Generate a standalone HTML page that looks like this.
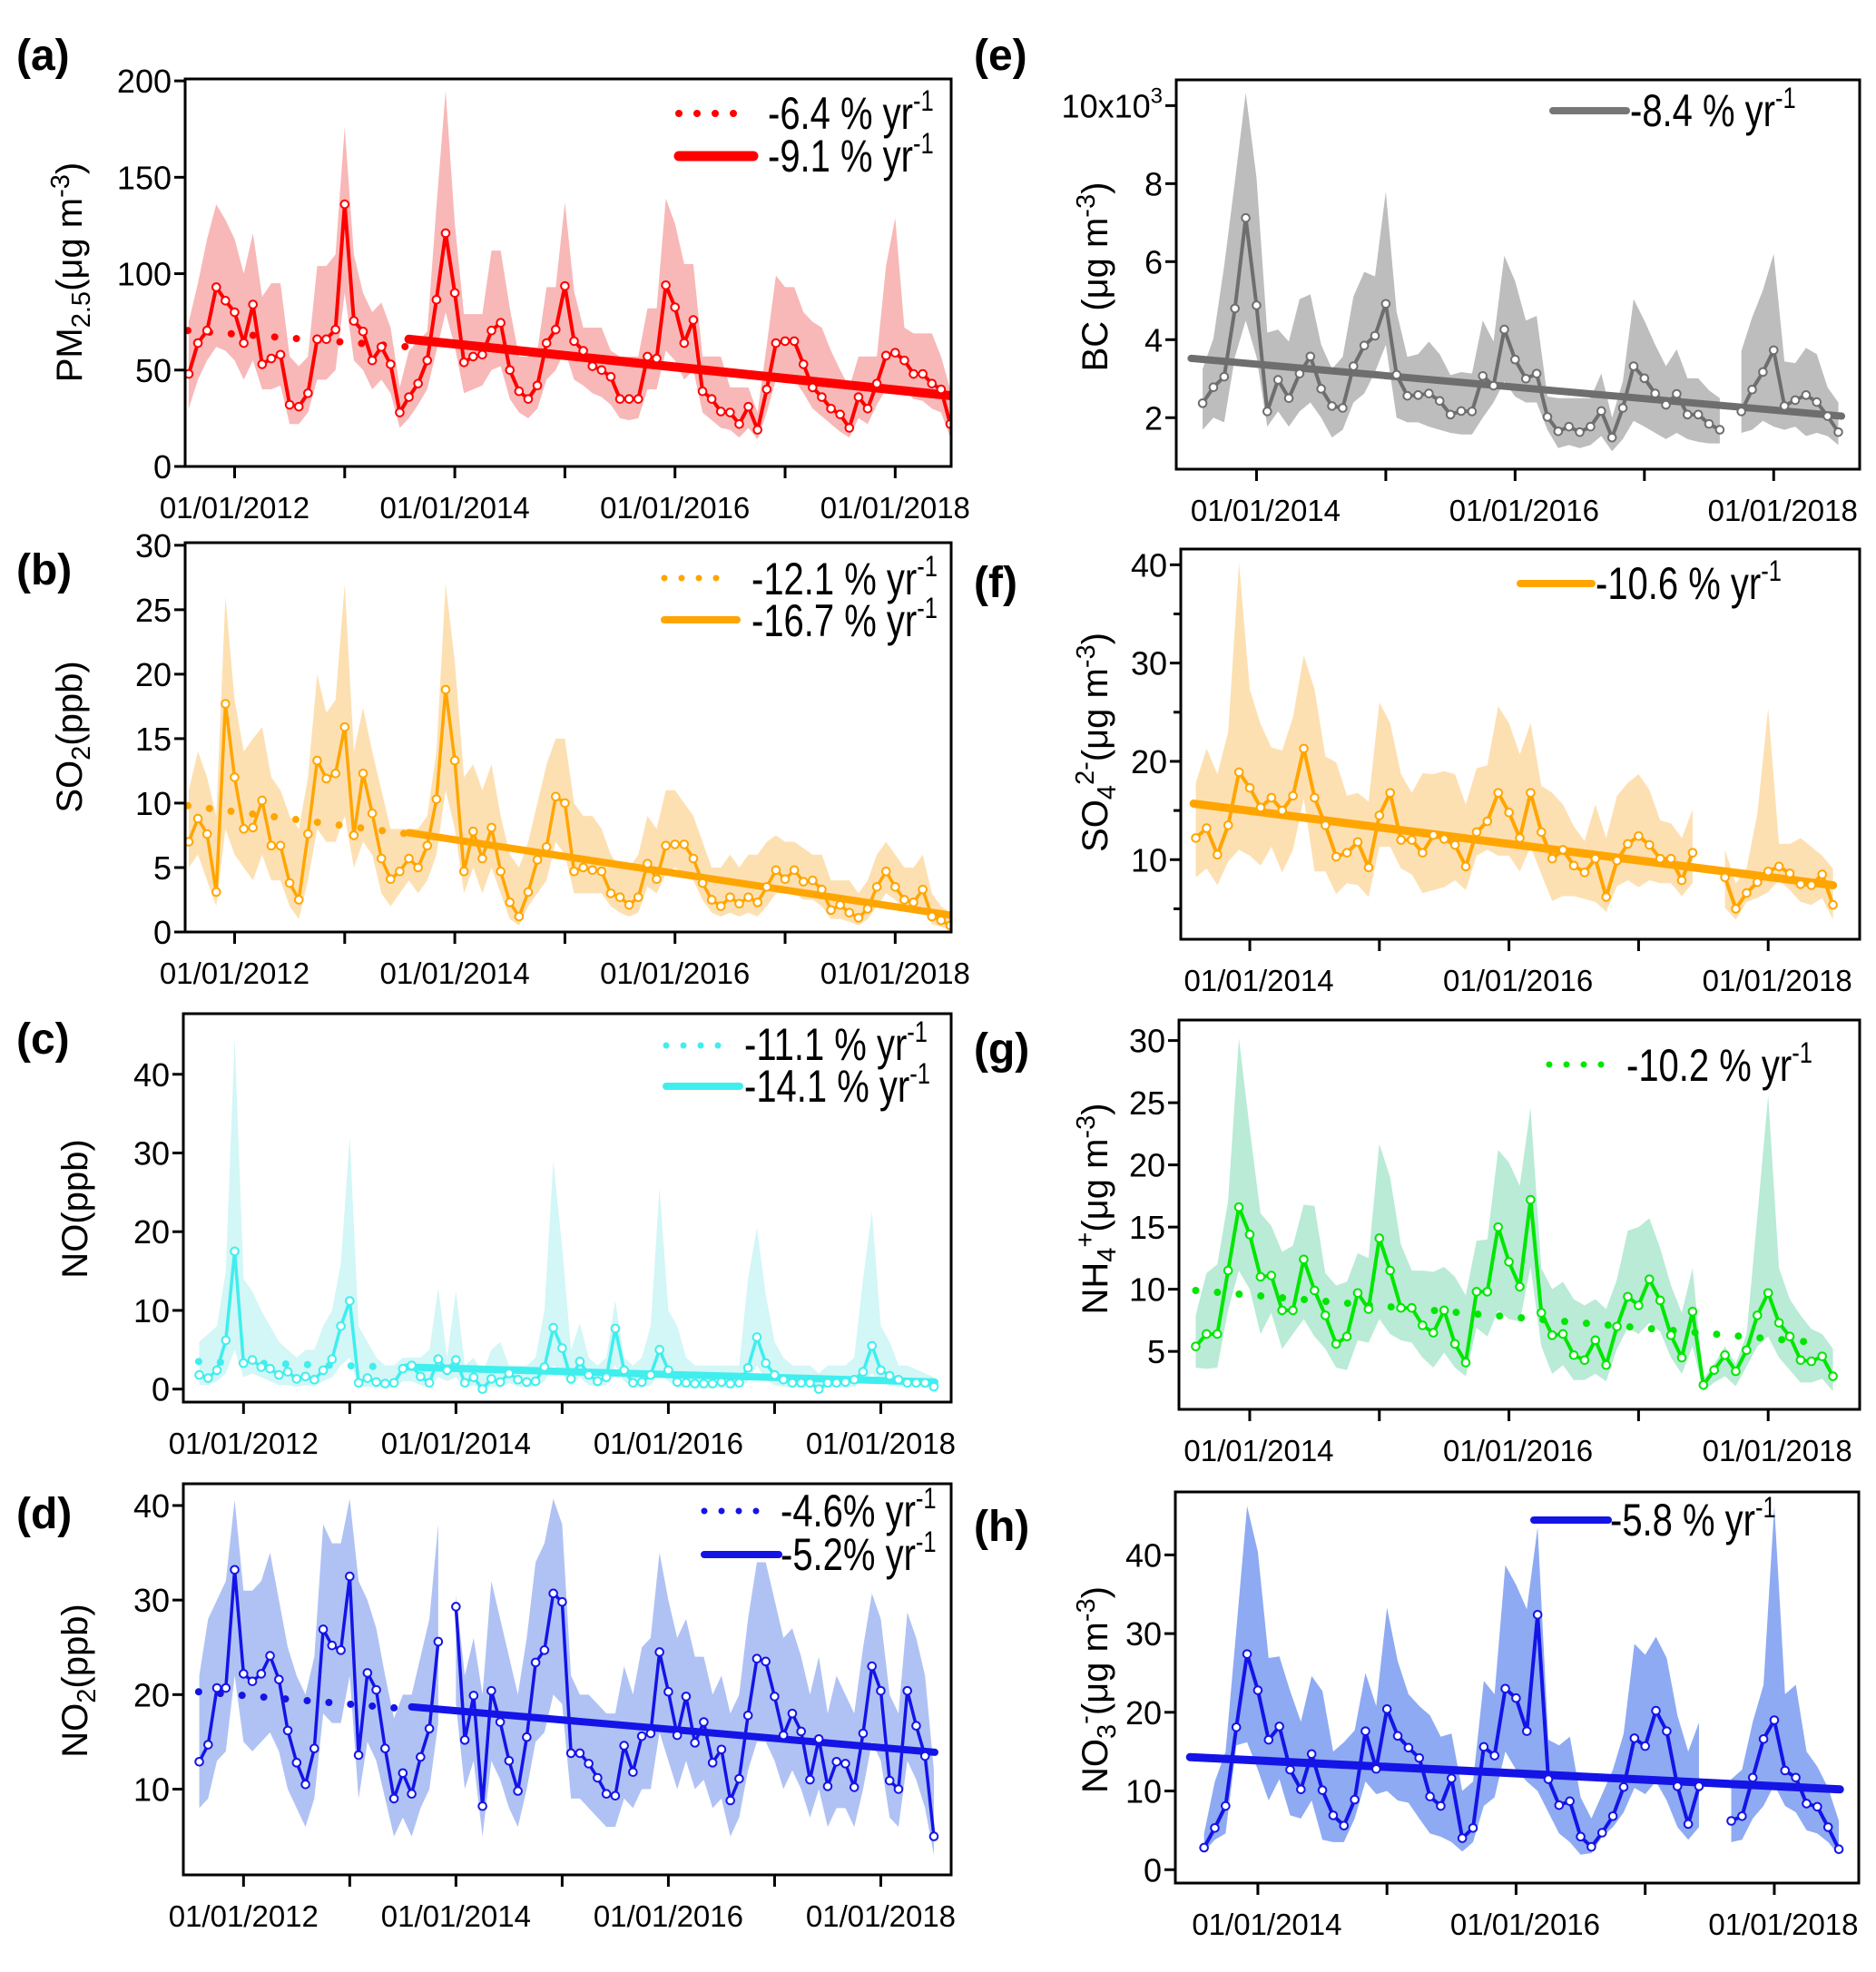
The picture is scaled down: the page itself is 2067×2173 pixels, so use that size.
<!DOCTYPE html>
<html><head><meta charset="utf-8"><title>Air pollutant trends</title>
<style>
html,body{margin:0;padding:0;background:#fff;}
svg{display:block;}
text{font-family:"Liberation Sans",Arial,sans-serif;}
.lg{font-size:50px;}
.pl{font-size:48px;font-weight:bold;}
.yt{font-size:40px;}
</style></head>
<body>
<svg id="fig" width="2067" height="2173" viewBox="0 0 2067 2173" xmlns="http://www.w3.org/2000/svg" font-family="Liberation Sans, Arial, sans-serif">
<rect x="0" y="0" width="2067" height="2173" fill="#fff"/>
<g id="marks"></g>
<text class="pl" x="18" y="77">(a)</text>
<text class="pl" x="18" y="644">(b)</text>
<text class="pl" x="18" y="1161">(c)</text>
<text class="pl" x="18" y="1684">(d)</text>
<text class="pl" x="1073" y="77">(e)</text>
<text class="pl" x="1073" y="658">(f)</text>
<text class="pl" x="1073" y="1172">(g)</text>
<text class="pl" x="1073" y="1698">(h)</text>
<text class="yt" transform="translate(90,300) rotate(-90)" text-anchor="middle">PM<tspan font-size="29" dy="9">2.5</tspan><tspan dy="-9">(μg m</tspan><tspan font-size="29" dy="-14">-3</tspan><tspan dy="14">)</tspan></text>
<text class="yt" transform="translate(90,812) rotate(-90)" text-anchor="middle">SO<tspan font-size="29" dy="9">2</tspan><tspan dy="-9">(ppb)</tspan></text>
<text class="yt" transform="translate(96,1332) rotate(-90)" text-anchor="middle">NO(ppb)</text>
<text class="yt" transform="translate(96,1852) rotate(-90)" text-anchor="middle">NO<tspan font-size="29" dy="9">2</tspan><tspan dy="-9">(ppb)</tspan></text>
<text class="yt" transform="translate(1220,305) rotate(-90)" text-anchor="middle">BC (μg m<tspan font-size="29" dy="-14">-3</tspan><tspan dy="14">)</tspan></text>
<text class="yt" transform="translate(1220,818) rotate(-90)" text-anchor="middle">SO<tspan font-size="29" dy="9">4</tspan><tspan font-size="29" dy="-24">2-</tspan><tspan dy="15">(μg m</tspan><tspan font-size="29" dy="-14">-3</tspan><tspan dy="14">)</tspan></text>
<text class="yt" transform="translate(1220,1332) rotate(-90)" text-anchor="middle">NH<tspan font-size="29" dy="9">4</tspan><tspan font-size="29" dy="-24">+</tspan><tspan dy="15">(μg m</tspan><tspan font-size="29" dy="-14">-3</tspan><tspan dy="14">)</tspan></text>
<text class="yt" transform="translate(1220,1862) rotate(-90)" text-anchor="middle">NO<tspan font-size="29" dy="9">3</tspan><tspan font-size="29" dy="-24">-</tspan><tspan dy="15">(μg m</tspan><tspan font-size="29" dy="-14">-3</tspan><tspan dy="14">)</tspan></text>
<g>
<line x1="748" y1="125" x2="816" y2="125" stroke="#ff0000" stroke-width="8" stroke-linecap="round" stroke-dasharray="0 20"/>
<g transform="translate(846,142) scale(0.8,1)"><text class="lg" x="0" y="0">-6.4 % yr<tspan font-size="32" dy="-20">-1</tspan></text></g>
<line x1="748" y1="172" x2="830" y2="172" stroke="#ff0000" stroke-width="11" stroke-linecap="round"/>
<g transform="translate(846,189) scale(0.8,1)"><text class="lg" x="0" y="0">-9.1 % yr<tspan font-size="32" dy="-20">-1</tspan></text></g>
</g>
<g>
<line x1="732" y1="637" x2="796" y2="637" stroke="#ffa500" stroke-width="7" stroke-linecap="round" stroke-dasharray="0 19"/>
<g transform="translate(828,655) scale(0.8,1)"><text class="lg" x="0" y="0">-12.1 % yr<tspan font-size="32" dy="-20">-1</tspan></text></g>
<line x1="732" y1="683" x2="812" y2="683" stroke="#ffa500" stroke-width="8" stroke-linecap="round"/>
<g transform="translate(828,701) scale(0.8,1)"><text class="lg" x="0" y="0">-16.7 % yr<tspan font-size="32" dy="-20">-1</tspan></text></g>
</g>
<g>
<line x1="734" y1="1152" x2="802" y2="1152" stroke="#40eeee" stroke-width="7" stroke-linecap="round" stroke-dasharray="0 19"/>
<g transform="translate(820,1168) scale(0.8,1)"><text class="lg" x="0" y="0">-11.1 % yr<tspan font-size="32" dy="-20">-1</tspan></text></g>
<line x1="734" y1="1197" x2="815" y2="1197" stroke="#40eeee" stroke-width="8" stroke-linecap="round"/>
<g transform="translate(820,1214) scale(0.8,1)"><text class="lg" x="0" y="0">-14.1 % yr<tspan font-size="32" dy="-20">-1</tspan></text></g>
</g>
<g>
<line x1="776" y1="1665" x2="841" y2="1665" stroke="#1414e6" stroke-width="7" stroke-linecap="round" stroke-dasharray="0 19"/>
<g transform="translate(860,1682) scale(0.8,1)"><text class="lg" x="0" y="0">-4.6% yr<tspan font-size="32" dy="-20">-1</tspan></text></g>
<line x1="776" y1="1713" x2="858" y2="1713" stroke="#1414e6" stroke-width="8" stroke-linecap="round"/>
<g transform="translate(860,1730) scale(0.8,1)"><text class="lg" x="0" y="0">-5.2% yr<tspan font-size="32" dy="-20">-1</tspan></text></g>
</g>
<g>
<line x1="1711" y1="122" x2="1792" y2="122" stroke="#777" stroke-width="8" stroke-linecap="round"/>
<g transform="translate(1796,139) scale(0.8,1)"><text class="lg" x="0" y="0">-8.4 % yr<tspan font-size="32" dy="-20">-1</tspan></text></g>
</g>
<g>
<line x1="1675" y1="643" x2="1754" y2="643" stroke="#ffa500" stroke-width="8" stroke-linecap="round"/>
<g transform="translate(1758,660) scale(0.8,1)"><text class="lg" x="0" y="0">-10.6 % yr<tspan font-size="32" dy="-20">-1</tspan></text></g>
</g>
<g>
<line x1="1707" y1="1173" x2="1772" y2="1173" stroke="#00e600" stroke-width="7" stroke-linecap="round" stroke-dasharray="0 19"/>
<g transform="translate(1792,1191) scale(0.8,1)"><text class="lg" x="0" y="0">-10.2 % yr<tspan font-size="32" dy="-20">-1</tspan></text></g>
</g>
<g>
<line x1="1690" y1="1675" x2="1772" y2="1675" stroke="#1414e6" stroke-width="8" stroke-linecap="round"/>
<g transform="translate(1774,1692) scale(0.8,1)"><text class="lg" x="0" y="0">-5.8 % yr<tspan font-size="32" dy="-20">-1</tspan></text></g>
</g>
</svg>
<script>
const aVals=[48,64,70.5,93,86,80,64,84,53,56,58,32,31,38,66,66,71,136,75.5,70,55,62,53,28,36,43,55,86.5,121,90,54,57,58,70.5,74.5,50,39,35,42,64,71,93.6,65,60,52,50,46.5,35,35,35,57,56,94,82.6,64,76,39,35,28.5,28,22,31,19,40,64,65,65,53,41,36,30,27,20,36,30,43,57.5,59,55,48,48,43,40,22];
const aUp=[75,95,118,136,128,118,100,121,88,95,95,57,52,57,104,104,110,176,110,90,80,85,72,41,60,65,70,135,195,126,79,79,79,112,112,82,57,57,60,93,93,137,91,72,72,72,60,57,57,57,82,82,139,126,105,105,57,57,57,41,41,41,28,63,99,93,93,80,75,72,60,50,41,57,57,57,104,129,72,69,69,69,57,40];
const aLo=[30,45,55,62,60,55,45,55,40,40,42,22,22,28,45,45,50,90,55,50,40,45,38,20,25,32,40,60,80,62,38,40,42,50,52,35,28,25,30,45,50,60,45,42,38,36,32,25,24,25,40,40,60,55,45,50,28,24,20,19,15,20,14,28,45,45,45,38,30,26,22,18,15,25,22,32,40,42,40,35,34,30,28,15];
const aDotT=[-5.1,19], aDotV=[70.5,62], aSolT=[19,78.1], aSolV=[66,36.7];

const bVals=[7.0,8.8,7.6,3.1,17.7,12.0,8.0,8.1,10.2,6.7,6.7,3.8,2.5,7.6,13.3,11.9,12.3,15.9,7.5,12.3,9.2,5.7,4.1,4.7,5.7,5.0,6.7,10.3,18.8,13.3,4.7,7.8,5.7,8.1,4.7,2.3,1.2,3.1,5.6,6.6,10.5,10.0,4.7,5.0,4.8,4.7,3.0,2.7,2.1,2.7,5.3,4.1,6.7,6.8,6.8,5.7,3.8,2.5,2.0,2.7,2.2,2.7,2.3,3.5,4.8,4.1,4.8,3.9,4.0,3.3,1.7,2.1,1.5,1.1,1.8,3.5,4.7,3.5,2.5,2.3,3.3,1.2,0.9,0.5];
const bUp=[11,14,12,9,26,18,14,15,15.9,12,11,9,8,12,20,17,18,27,14,17.4,14,11,8,8,8,8,9,14,27,21,12,13,11,13,9,6,5,7,10,13,15,15,10,9,9,8,6,5,5,6,9,8,11,11,10,9,7,5,5,6,5,6,6,7,7.5,7,7,6.5,6,6,4,4,4,3,4,6,7,6,5,5,6,3,2,1.5];
const bLo=[5,6,4,2,8,6,5,4,6,4,4,2,1,4,8,7,7,9,5,7,6,3,2,3,4,3,4,6,11,8,3,5,3,5,3,1,0.5,2,3,4,7,6,3,3,3,3,2,1.5,1.2,1.5,3.5,3,4.5,5,4.5,4,2.5,1.5,1.2,1.5,1.2,1.5,1.2,2,3,3,3,2.5,2.5,2,1,1,0.8,0.5,1,2,3,2.5,1.8,1.5,2,0.6,0.4,0.2];
const bDotT=[-5.1,19], bDotV=[9.8,7.6], bSolT=[19,78.1], bSolV=[7.7,1.3];

const cVals=[1.8,1.4,2.4,6.2,17.5,3.3,3.7,2.8,2.6,1.8,2.2,1.3,1.6,1.2,2.4,3.8,8.0,11.2,0.8,1.4,0.9,0.7,0.8,2.6,3.0,1.6,0.8,3.8,2.4,3.7,0.8,1.5,0,1.3,0.9,2.0,1.2,0.9,1.0,2.8,7.8,5.2,1.3,3.5,1.8,1.0,1.5,7.7,2.4,0.8,0.9,1.8,5.0,2.4,0.9,0.8,0.7,0.7,0.7,0.9,0.7,0.8,2.7,6.6,3.3,1.8,1.2,0.8,0.8,0.8,0,0.8,0.8,0.9,1.2,2.2,5.5,2.4,1.7,1.2,0.8,0.8,0.8,0.3];
const cUp=[6,7,8,15,44.7,14,12.4,10,8,6,5,4,5,5,8,10,16,32,8,6,4,3,3,4,4,4,5,12.8,4,12.5,3,4,2,5,6,3,3,3,4,10,29,18,5,8.4,4,3,4,11.3,4,3,4,8,25.5,10,8,4,3,3,3,3,3,3,14,20.5,12,6,4,3,3,3,2,3,3,3,4,14,22.6,8,6,3,3,2.5,2,1.5];
const cLo=[0.5,0.5,1,2,5,1.5,2,1.5,1,0.5,0.5,0.3,0.5,0.3,1,1.5,3,4,0.2,0.3,0.2,0.2,0.2,1,1,0.5,0.2,1.5,1,1.5,0.2,0.5,0,0.3,0.2,0.8,0.3,0.2,0.3,1,3,2,0.3,1.5,0.5,0.3,0.5,3,1,0.2,0.2,0.5,2,1,0.2,0.2,0.1,0.1,0.1,0.2,0.1,0.2,1,3,1.2,0.5,0.3,0.2,0.2,0.2,0,0.2,0.2,0.2,0.3,1,2,1,0.5,0.3,0.2,0.2,0.2,0];
const cDotT=[-5.07,17], cDotV=[3.5,2.8], cSolT=[18.4,78.1], cSolV=[2.8,0.9];

const dVals=[12.9,14.7,20.7,20.7,33.2,22.2,21.4,22.2,24.1,21.6,16.2,12.8,10.5,14.3,26.9,25.2,24.7,32.5,13.6,22.3,20.5,14.3,9.0,11.7,9.5,13.4,16.4,25.6,null,29.3,15.2,19.9,8.2,20.4,17.1,13.0,9.8,15.5,23.4,24.7,30.7,29.8,13.8,13.8,12.7,11.2,9.5,9.3,14.6,11.8,15.6,15.9,24.5,20.3,15.7,19.8,14.9,17.1,12.8,14.2,8.8,11.1,17.8,23.8,23.5,19.8,15.7,18.0,16.1,11.0,15.3,10.3,12.9,12.7,10.2,15.9,23.0,20.4,10.9,10.0,20.4,16.7,13.5,5.0];
const dUp=[22,28,30,32,40.6,31,31,32,35,30,25,22,20,24,38,36,36,40.7,32,30,27,22,17.5,20,20,24,28,38,null,30.5,22,26,20,32,28,24,20,26,34,36,40.7,38,22,20,20,19,18,18,23,20,25,26,35,30,26,28,24,24,20,22,18,20,28,34,34,30,26,27,24,20,24,18,22,20,18,25,30.7,28,20,18,28.7,26,22,12];
const dLo=[8,9,13,14,22,15,14,15,16,14,10,8,6,9,18,17,17,22,9,15,13,9,5,7,5,8,10,17,null,19,10,13,5,13,11,8,6,10,15,16,20,19,9,9,8,7,6,6,9,8,10,10,16,13,10,13,10,11,8,9,5,7,12,15,15,13,10,12,10,7,10,6,8,8,6,10,15,13,7,6,13,11,8,3];
const dDotT=[-5.07,18.3], dDotV=[20.3,18.5], dSolT=[19,78.1], dSolV=[18.7,13.9];

const eVals=[2.37,2.78,3.05,4.8,7.12,4.88,2.16,2.97,2.5,3.13,3.57,2.74,2.3,2.25,3.32,3.85,4.1,4.92,3.1,2.56,2.58,2.62,2.43,2.08,2.17,2.16,3.07,2.82,4.26,3.49,3.0,3.13,2.02,1.65,1.77,1.63,1.77,2.17,1.49,2.25,3.32,3.01,2.62,2.33,2.61,2.08,2.08,1.84,1.69,null,2.16,2.72,3.17,3.73,2.3,2.45,2.58,2.4,2.04,1.63];
const eUp=[3.25,4.03,5.89,8.07,10.33,8.15,4.18,4.26,3.95,5.04,5.16,3.87,3.25,3.56,5.11,5.74,5.62,7.8,4.72,3.56,3.63,3.95,3.63,3.09,3.17,3.13,4.49,3.95,6.15,5.5,4.49,4.61,2.54,2.5,2.5,2.5,2.5,3.13,2.0,2.93,5.04,4.49,3.87,3.32,3.75,3.01,3.01,2.7,2.5,null,3.71,4.57,5.27,6.2,3.44,3.4,3.79,3.63,2.78,2.39];
const eLo=[1.69,2.0,1.88,3.56,4.49,3.56,1.77,2.16,1.77,2.16,2.39,2.0,1.49,1.69,2.39,2.62,3.17,3.87,2.0,1.88,1.88,1.77,1.69,1.61,1.57,1.57,2.0,2.39,2.93,2.54,2.39,2.39,1.69,1.22,1.3,1.22,1.3,1.53,1.14,1.45,1.92,1.77,1.61,1.45,1.61,1.45,1.38,1.34,1.34,null,1.61,1.69,1.92,1.77,1.69,1.77,1.53,1.61,1.53,1.3];
const eSolT=[-6.07,54.3], eSolV=[3.52,2.04];

const fVals=[12.2,13.2,10.5,13.5,18.9,17.3,15.3,16.3,15.0,16.5,21.3,16.3,13.5,10.3,10.7,11.8,9.2,14.5,16.8,12.0,12.0,10.7,12.5,12.1,11.5,9.3,12.8,13.9,16.8,14.8,12.2,16.8,12.8,10.1,11.0,9.4,8.7,10.1,6.2,9.9,11.6,12.4,11.5,10.1,10.1,7.9,10.7,null,null,8.2,5.0,6.6,7.7,8.8,9.3,8.6,7.5,7.4,8.5,5.4];
const fUp=[17.8,21.3,18.7,23.0,40.2,27.3,23.8,21.4,21.1,24.5,30.8,27.3,20.5,19.9,16.5,16.8,15.9,26.0,23.9,18.7,16.8,18.8,18.7,19.0,18.7,15.6,19.3,19.6,25.6,23.9,20.7,23.9,17.5,16.8,15.6,13.4,11.9,15.6,12.2,16.5,17.8,18.7,17.1,14.0,13.7,12.2,15.1,null,null,11.0,7.6,9.1,14.7,25.4,11.6,11.6,12.2,11.3,10.4,9.1];
const fLo=[8.2,9.1,7.4,9.8,11.0,10.4,9.4,11.3,8.7,11.0,16.2,8.8,8.8,6.5,7.6,7.4,6.2,11.3,11.3,9.1,8.5,6.6,6.9,7.2,7.9,6.9,10.4,11.0,10.4,10.4,8.8,11.3,8.5,5.8,6.3,6.3,6.0,5.7,4.7,7.3,7.9,7.2,7.9,7.6,7.6,6.3,7.6,null,null,5.1,3.9,5.7,6.1,6.7,7.9,6.9,5.7,5.4,6.1,3.9];
const fSolT=[-5.2,54], fSolV=[15.7,7.4];

const gVals=[5.4,6.4,6.4,11.5,16.6,14.4,11.0,11.1,8.3,8.3,12.4,9.9,7.9,5.6,6.2,9.7,8.4,14.1,11.5,8.5,8.5,7.1,6.5,8.3,5.6,4.1,9.8,9.8,15.0,12.2,10.2,17.2,8.1,6.3,6.4,4.7,4.3,5.9,3.9,7.0,9.4,8.7,10.8,9.1,6.3,4.5,8.2,2.3,3.5,4.7,3.4,5.1,7.9,9.7,7.3,6.2,4.3,4.2,4.6,3.0];
const gUp=[7.9,11.3,12.0,17.1,30.2,22.9,16.1,15.1,13.0,13.5,16.8,16.7,11.3,10.3,10.6,12.9,12.5,21.7,19.0,13.6,11.5,11.5,11.4,11.8,11.0,9.5,13.9,14.0,21.2,20.2,18.3,24.6,11.7,10.0,10.6,9.2,8.7,9.2,8.4,10.8,14.7,15.0,15.7,13.3,10.3,8.1,11.7,2.8,4.0,5.4,4.0,6.4,15.9,25.6,11.7,9.2,7.9,6.8,6.4,5.2];
const gLo=[3.7,3.6,3.7,8.3,11.5,10.0,6.4,8.1,5.2,6.4,7.6,6.2,5.2,3.7,3.5,5.9,5.7,7.6,6.4,5.9,5.7,4.5,3.7,4.9,3.7,3.0,6.9,6.2,8.3,7.6,7.4,11.8,5.4,3.2,3.9,2.7,2.7,3.2,2.6,5.2,6.9,6.4,7.3,6.6,4.5,3.2,5.4,1.8,2.5,3.0,2.2,3.8,5.4,6.2,4.5,3.5,2.5,2.5,2.8,1.8];
const gDotT=[-5,52.6], gDotV=[9.9,5.7];

const hVals=[2.8,5.3,8.1,18.1,27.4,22.8,16.5,18.2,12.7,10.2,14.7,10.1,6.9,5.6,8.9,17.6,12.8,20.4,17.0,15.5,14.2,9.3,8.1,11.6,4.0,5.3,15.6,14.5,23.0,21.8,17.6,32.4,11.5,8.2,8.7,4.2,2.9,4.7,6.8,10.5,16.7,15.7,20.2,17.6,10.6,5.8,10.6,null,null,6.2,6.8,11.7,16.6,19.0,12.6,11.7,8.4,8.0,5.4,2.6];
const hUp=[4.6,11.2,15.0,30.5,46.2,40.4,26.9,27.1,22.7,18.8,24.6,22.7,15.0,16.2,17.7,25.0,20.8,33.3,26.5,22.3,20.8,19.6,16.9,17.3,10.0,11.2,24.0,22.3,38.7,36.2,33.1,43.5,16.5,15.8,16.9,9.2,6.5,9.6,12.7,17.3,28.7,27.3,29.6,26.9,19.6,15.0,18.7,null,null,11.5,12.7,18.8,23.5,46.2,22.3,23.5,15.0,13.1,10.4,6.2];
const hLo=[2.3,3.8,4.6,15.8,16.2,12.7,8.8,11.5,6.9,6.5,8.8,3.8,3.5,3.5,6.5,11.2,9.6,10.0,8.8,8.5,6.5,4.6,4.2,3.5,2.3,3.5,8.1,9.2,15.0,12.7,11.2,10.0,7.3,4.6,3.5,1.9,2.1,4.2,5.4,7.3,10.4,9.6,11.2,8.8,5.4,3.8,5.4,null,null,3.5,3.8,6.5,8.1,10.8,8.1,7.3,5.0,4.6,3.5,1.9];
const hSolT=[-6.3,54.1], hSolV=[14.3,10.2];

const aTicks=[0,50,100,150,200];
const bTicks=[0,5,10,15,20,25,30];
const cTicks=[0,10,20,30,40];
const dTicks=[10,20,30,40];
const eTicks=[2,4,6,8,10];
const fTicks=[10,20,30,40];
const gTicks=[5,10,15,20,25,30];
const hTicks=[0,10,20,30,40];
const leftYears=[2012,2013,2014,2015,2016,2017,2018];
const rightYears=[2014,2015,2016,2017,2018];

const NS='http://www.w3.org/2000/svg';
const root=document.getElementById('marks');
const FF='Liberation Sans, Arial, sans-serif';
const panels=[
 {id:'a',box:[204,1048,87,514],tr:[-5.39,78.1],yr:[0,201],base:2012,years:leftYears,v:aVals,u:aUp,l:aLo,ticks:aTicks,col:'#ff0000',band:'#f8b8b8',trends:[[aDotT,aDotV,true],[aSolT,aSolV,false]],lw:4,tw:10},
 {id:'b',box:[204,1048,598,1027],tr:[-5.39,78.1],yr:[0,30.2],base:2012,years:leftYears,v:bVals,u:bUp,l:bLo,ticks:bTicks,col:'#ffa500',band:'#fde0b2',trends:[[bDotT,bDotV,true],[bSolT,bSolV,false]],lw:3.5,tw:8},
 {id:'c',box:[202,1048,1117,1545],tr:[-6.8,79.95],yr:[-1.65,47.7],base:2012,years:leftYears,v:cVals,u:cUp,l:cLo,ticks:cTicks,col:'#40eeee',band:'#d3f6f6',trends:[[cDotT,cDotV,true],[cSolT,cSolV,false]],lw:3.5,tw:8},
 {id:'d',box:[202,1048,1635,2066],tr:[-6.8,79.95],yr:[0.93,42.3],base:2012,years:leftYears,v:dVals,u:dUp,l:dLo,ticks:dTicks,col:'#1414e6',band:'#b0c2f4',trends:[[dDotT,dDotV,true],[dSolT,dSolV,false]],lw:3.5,tw:8},
 {id:'e',box:[1296,2049,88,517],tr:[-7.45,55.98],yr:[0.68,10.66],base:2014,years:rightYears,v:eVals,u:eUp,l:eLo,ticks:eTicks,col:'#6e6e6e',band:'#bdbdbd',trends:[[eSolT,eSolV,false]],lw:4,tw:8},
 {id:'f',box:[1301,2049,605,1035],tr:[-6.39,56.47],yr:[1.9,41.6],base:2014,years:rightYears,v:fVals,u:fUp,l:fLo,ticks:fTicks,col:'#ffa500',band:'#fde0b2',trends:[[fSolT,fSolV,false]],lw:4,tw:9,minor:[5,15,25,35]},
 {id:'g',box:[1299,2049,1124,1553],tr:[-6.55,56.47],yr:[0.34,31.65],base:2014,years:rightYears,v:gVals,u:gUp,l:gLo,ticks:gTicks,col:'#00e600',band:'#b9ebd6',trends:[[gDotT,gDotV,true]],lw:4,tw:8},
 {id:'h',box:[1295,2048,1644,2075],tr:[-7.67,55.85],yr:[-1.7,48],base:2014,years:rightYears,v:hVals,u:hUp,l:hLo,ticks:hTicks,col:'#1414e6',band:'#8eaaf2',trends:[[hSolT,hSolV,false]],lw:4,tw:9}
];

function mk(tag,attrs,parent){const e=document.createElementNS(NS,tag);for(const k in attrs)e.setAttribute(k,attrs[k]);(parent||root).appendChild(e);return e;}

panels.forEach(p=>{
  const [x0,x1,y0,y1]=p.box;
  const X=t=>x0+(t-p.tr[0])/(p.tr[1]-p.tr[0])*(x1-x0);
  const Y=v=>y1-(v-p.yr[0])/(p.yr[1]-p.yr[0])*(y1-y0);
  const g=mk('g',{});
  
  
  const cp=mk('clipPath',{id:'clip-'+p.id},g);
  mk('rect',{x:x0,y:y0,width:x1-x0,height:y1-y0},cp);
  const inner=mk('g',{'clip-path':'url(#clip-'+p.id+')'},g);
  let seg=[];
  const segs=[];
  p.v.forEach((v,i)=>{ if(v===null||p.u[i]===null){ if(seg.length)segs.push(seg); seg=[]; } else seg.push(i); });
  if(seg.length)segs.push(seg);
  segs.forEach(s=>{
    const pts=s.map(i=>X(-5+i)+','+Y(p.u[i])).concat(s.slice().reverse().map(i=>X(-5+i)+','+Y(p.l[i])));
    const poly=mk('polygon',{points:pts.join(' '),fill:p.band,stroke:'none'},inner);
    
    
  });
  p.trends.forEach(tr=>{
    const [tt,vv,dot]=tr;
    const ln=mk('line',{x1:X(tt[0]),y1:Y(vv[0]),x2:X(tt[1]),y2:Y(vv[1]),stroke:p.col,'stroke-width':dot?8:p.tw,'stroke-linecap':'round'},inner);
    if(dot)ln.setAttribute('stroke-dasharray','0 24');
    
    
  });
  segs.forEach(s=>{
    const pl=mk('polyline',{points:s.map(i=>X(-5+i)+','+Y(p.v[i])).join(' '),fill:'none',stroke:p.col,'stroke-width':p.lw,'stroke-linejoin':'round'},inner);
    
    
  });
  p.v.forEach((v,i)=>{
    if(v===null)return;
    const c=mk('circle',{cx:X(-5+i),cy:Y(v),r:4.3,fill:'#fff',stroke:p.col,'stroke-width':2},inner);
    
    
  });
  const fr=mk('rect',{x:x0,y:y0,width:x1-x0,height:y1-y0,fill:'none',stroke:'#000','stroke-width':3},g);
  
  
  p.ticks.forEach(tv=>{
    const yy=Y(tv);
    mk('line',{x1:x0-12,y1:yy,x2:x0,y2:yy,stroke:'#000','stroke-width':3},g);
    const t=mk('text',{x:x0-15,y:yy+13,'text-anchor':'end','font-size':36,'font-family':FF},g);
    if(p.id==='e'&&tv===10){t.textContent='10x10';const s=mk('tspan',{'font-size':24,dy:-16},t);s.textContent='3';}
    else t.textContent=String(tv);
    
    
  });
  (p.minor||[]).forEach(tv=>{const yy=Y(tv);mk('line',{x1:x0-8,y1:yy,x2:x0,y2:yy,stroke:'#000','stroke-width':3},g);});
  p.years.forEach(yv=>{
    const xx=X((yv-p.base)*12);
    mk('line',{x1:xx,y1:y1,x2:xx,y2:y1+13,stroke:'#000','stroke-width':3},g);
    if((yv-p.base)%2===0){
      const t=mk('text',{x:xx+(p.base===2014?10:0),y:y1+57,'text-anchor':'middle','font-size':33,'font-family':FF},g);
      t.textContent='01/01/'+yv;
      
      
    }
  });
});
</script>
</body></html>
